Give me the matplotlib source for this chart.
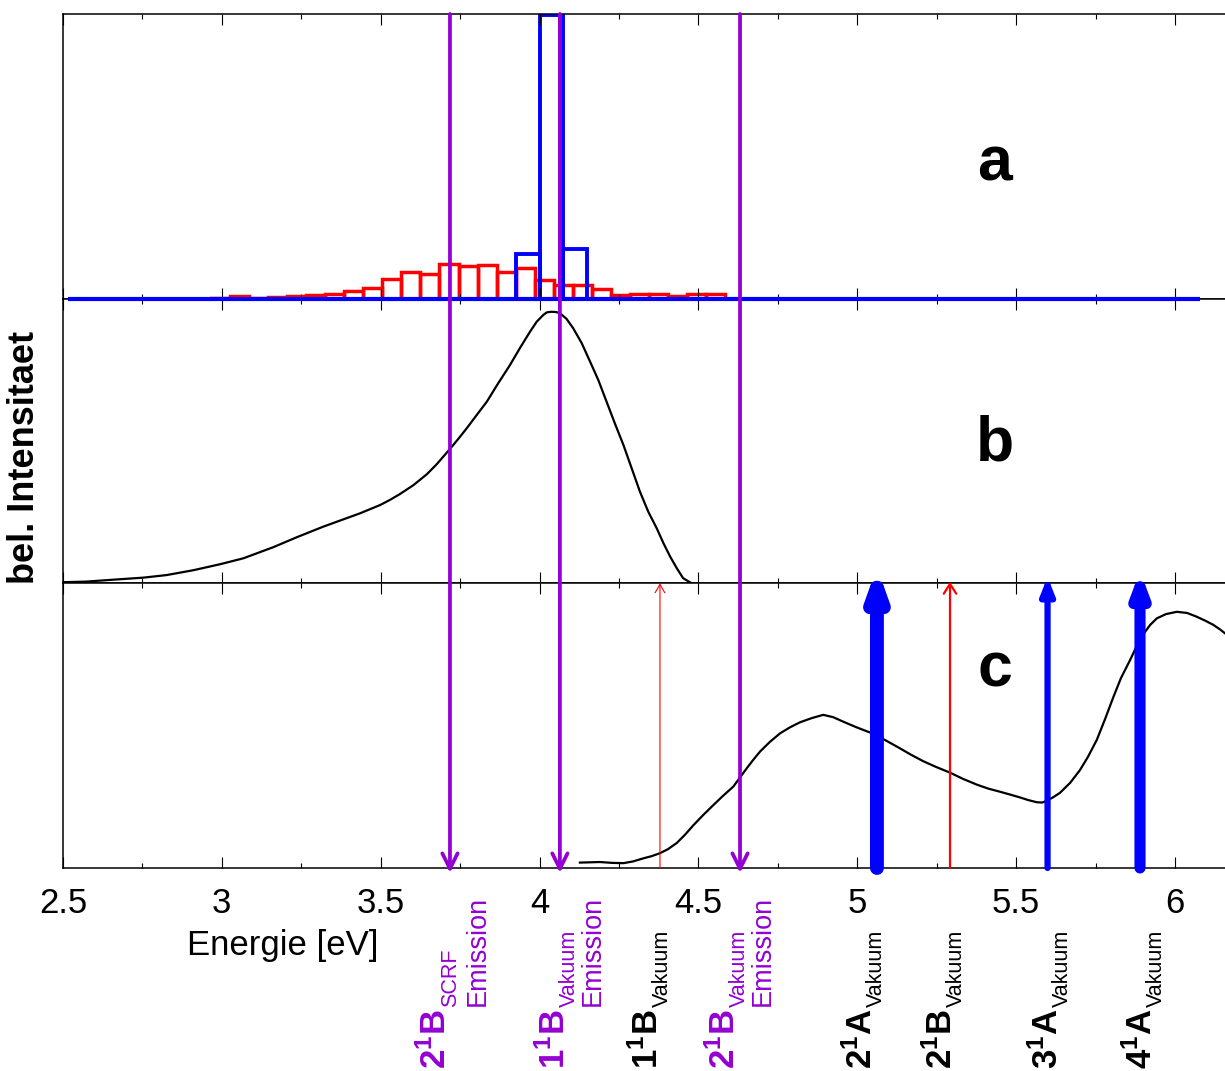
import matplotlib.pyplot as plt
import numpy as np
from matplotlib.ticker import MultipleLocator, FormatStrFormatter
from matplotlib.transforms import blended_transform_factory

plt.rcParams['font.family'] = ['Liberation Sans', 'DejaVu Sans']
plt.rcParams['mathtext.fontset'] = 'custom'
plt.rcParams['mathtext.rm'] = 'Liberation Sans'
plt.rcParams['mathtext.bf'] = 'Liberation Sans:bold'
plt.rcParams['mathtext.it'] = 'Liberation Sans:italic'

PURPLE = '#9400D3'

# --- panel a: histograms (normalised heights) ---
red_start, red_width = 2.965, 0.06
red_heights = [0.004, 0.008, 0.004, 0.007, 0.008, 0.014, 0.016, 0.026, 0.036,
               0.070, 0.093, 0.088, 0.122, 0.113, 0.117, 0.095, 0.106, 0.064,
               0.049, 0.049, 0.034, 0.012, 0.018, 0.018, 0.011, 0.018, 0.018]
blue_left = [3.925, 4.0, 4.075]
blue_width = 0.075
blue_heights = [0.156, 0.995, 0.174]
blue_span = [2.515, 6.08]

# --- panel b: emission spectrum ---
b_x = [2.501, 2.572, 2.648, 2.753, 2.826, 2.910, 2.994, 3.068, 3.162, 3.236,
       3.319, 3.435, 3.498, 3.529, 3.561, 3.603, 3.645, 3.676, 3.718, 3.744,
       3.771, 3.802, 3.834, 3.870, 3.907, 3.938, 3.970, 3.991, 4.012, 4.023,
       4.038, 4.052, 4.064, 4.085, 4.106, 4.133, 4.159, 4.185, 4.211, 4.237,
       4.264, 4.290, 4.316, 4.342, 4.369, 4.390, 4.411, 4.432, 4.452, 4.479]
b_y = [0.004, 0.006, 0.012, 0.020, 0.029, 0.046, 0.067, 0.088, 0.127, 0.162,
       0.199, 0.246, 0.275, 0.293, 0.314, 0.345, 0.383, 0.418, 0.472, 0.507,
       0.545, 0.591, 0.638, 0.703, 0.767, 0.826, 0.884, 0.919, 0.943, 0.952,
       0.954, 0.953, 0.949, 0.929, 0.896, 0.843, 0.779, 0.714, 0.638, 0.562,
       0.486, 0.404, 0.322, 0.252, 0.193, 0.141, 0.094, 0.053, 0.018, 0.0]

# --- panel c: absorption spectrum ---
c_x = [4.127, 4.159, 4.190, 4.228, 4.264, 4.294, 4.327, 4.354, 4.379, 4.404,
       4.432, 4.458, 4.484, 4.515, 4.547, 4.577, 4.610, 4.631, 4.652, 4.672,
       4.694, 4.725, 4.757, 4.788, 4.820, 4.858, 4.893, 4.924, 4.956, 4.996,
       5.040, 5.072, 5.103, 5.135, 5.169, 5.208, 5.248, 5.292, 5.333, 5.376,
       5.412, 5.449, 5.481, 5.512, 5.537, 5.565, 5.582, 5.596, 5.616, 5.638,
       5.670, 5.701, 5.726, 5.754, 5.780, 5.806, 5.830, 5.859, 5.881, 5.901,
       5.922, 5.943, 5.972, 6.006, 6.038, 6.068, 6.095, 6.121, 6.142, 6.158]
c_y = [0.019, 0.020, 0.021, 0.018, 0.017, 0.023, 0.034, 0.042, 0.052, 0.066,
       0.088, 0.117, 0.150, 0.186, 0.221, 0.253, 0.286, 0.318, 0.350, 0.379,
       0.409, 0.443, 0.473, 0.494, 0.512, 0.527, 0.538, 0.530, 0.514, 0.495,
       0.476, 0.459, 0.440, 0.420, 0.398, 0.375, 0.355, 0.335, 0.313, 0.293,
       0.279, 0.268, 0.258, 0.248, 0.239, 0.231, 0.230, 0.236, 0.248, 0.264,
       0.299, 0.344, 0.390, 0.450, 0.523, 0.600, 0.667, 0.731, 0.783, 0.822,
       0.854, 0.877, 0.892, 0.900, 0.896, 0.883, 0.869, 0.854, 0.838, 0.824]

# --- transitions ---
emis_x = [3.718, 4.064, 4.631]
abs_x = [4.379, 5.062, 5.292, 5.599, 5.890]
abs_color = ['red', 'blue', 'red', 'blue', 'blue']
abs_lw = [0.8, 10, 1.6, 4.5, 8]
abs_tip = [1.0, 1.057, 1.005, 1.022, 1.043]
abs_style = ['->,head_length=6,head_width=3.5', '-|>,head_length=14,head_width=5',
             '->,head_length=7,head_width=4.5', '-|>,head_length=10,head_width=4',
             '-|>,head_length=12,head_width=4.5']

lab_main = ['2^{1}B', '1^{1}B', '1^{1}B', '2^{1}B', '2^{1}A', '2^{1}B', '3^{1}A', '4^{1}A']
lab_sub = ['SCRF', 'Vakuum', 'Vakuum', 'Vakuum', 'Vakuum', 'Vakuum', 'Vakuum', 'Vakuum']
lab_x = [3.706, 4.080, 4.373, 4.615, 5.046, 5.298, 5.632, 5.928]
lab_color = [PURPLE, PURPLE, 'black', PURPLE, 'black', 'black', 'black', 'black']
emis_label_x = [3.828, 4.190, 4.725]

W, H = 1225, 1071
X0, X1 = 2.5, 2.5 + (W - 63) / 317.7
left = 63 / W
top_px, bot_px = 14, 868
ph = (bot_px - top_px) / 3

fig = plt.figure(figsize=(W / 100, H / 100), dpi=100)
axes = []
for i in range(3):
    y0 = top_px + i * ph
    ax = fig.add_axes([left, 1 - (y0 + ph) / H, 1 - left, ph / H])
    ax.set_xlim(X0, X1)
    ax.set_ylim(0, 1)
    ax.set_yticks([])
    ax.spines['right'].set_visible(False)
    for s in ['left', 'top', 'bottom']:
        ax.spines[s].set_linewidth(1.1)
    ax.xaxis.set_major_locator(MultipleLocator(0.5))
    ax.xaxis.set_minor_locator(MultipleLocator(0.25))
    ax.tick_params(which='both', direction='in', top=True, bottom=True,
                   labelbottom=False, width=0.8)
    ax.tick_params(which='major', length=8)
    ax.tick_params(which='minor', length=3.6)
    axes.append(ax)
ax_a, ax_b, ax_c = axes

# panel a
red_left = red_start + red_width * np.arange(len(red_heights))
ax_a.bar(red_left, red_heights, width=red_width, align='edge', fill=False,
         edgecolor='red', lw=2.5)
ax_a.bar(blue_left, blue_heights, width=blue_width, align='edge', fill=False,
         edgecolor='blue', lw=2.8)

# panel b, c
ax_b.plot(b_x, b_y, color='black', lw=1.6)
ax_c.plot(c_x, c_y, color='black', lw=1.6)

for ax, letter, yb in zip(axes, ['a', 'b', 'c'], [0.4145, 0.433, 0.639]):
    ax.text(0.802, yb, letter, transform=ax.transAxes, ha='center', va='baseline',
            fontsize=45, fontweight='bold')

ax_c.tick_params(labelbottom=True, labelsize=25, pad=14)
ax_c.xaxis.set_major_formatter(FormatStrFormatter('%g'))
ax_c.set_xlabel('Energie [eV]', fontsize=25)
ax_c.xaxis.set_label_coords(0.1893, -0.214)

fig.text(25 / W, 1 - 457 / H, 'bel. Intensitaet', rotation=90, ha='center',
         va='center', fontsize=26, fontweight='bold')

# overlay for arrows spanning all panels
ax_o = fig.add_axes([left, 1 - bot_px / H, 1 - left, (bot_px - top_px) / H])
ax_o.set_xlim(X0, X1)
ax_o.set_ylim(0, 3)
ax_o.axis('off')

# blue baseline of the histogram, drawn over the panel border
ax_o.hlines(2, blue_span[0], blue_span[1], colors='blue', lw=3, clip_on=False)

for x in emis_x:
    ax_o.annotate('', xy=(x, -0.017), xytext=(x, 3),
                  arrowprops=dict(arrowstyle='->,head_length=11,head_width=5.5',
                                  color=PURPLE, lw=2.7, shrinkA=0, shrinkB=0,
                                  mutation_scale=1),
                  annotation_clip=False)

for x, c, lw, tip, st in zip(abs_x, abs_color, abs_lw, abs_tip, abs_style):
    ax_o.annotate('', xy=(x, tip), xytext=(x, 0),
                  arrowprops=dict(arrowstyle=st, color=c, lw=lw, shrinkA=0,
                                  shrinkB=0, mutation_scale=1, capstyle='round',
                                  joinstyle='round'),
                  annotation_clip=False)

# labels below the axis
tr = blended_transform_factory(ax_o.transData, fig.transFigure)
mains = []
for x, m, col in zip(lab_x, lab_main, lab_color):
    t = fig.text(x, (H - 1069) / H, r'$\mathbf{%s}$' % m, transform=tr, rotation=90,
                 rotation_mode='anchor', ha='left', va='baseline', fontsize=25,
                 color=col)
    mains.append(t)
for x in emis_label_x:
    fig.text(x, (H - 1006) / H, 'Emission', transform=tr, rotation=90,
             rotation_mode='anchor', ha='left', va='baseline', fontsize=19.5,
             color=PURPLE)

fig.canvas.draw()
renderer = fig.canvas.get_renderer()
inv = fig.transFigure.inverted()
for t, x, s, col in zip(mains, lab_x, lab_sub, lab_color):
    bb = t.get_window_extent(renderer)
    xd = ax_o.transData.transform((x, 0))[0] + 10
    fx, fy = inv.transform((xd, bb.y1 + 2))
    fig.text(fx, fy, s, rotation=90, rotation_mode='anchor', ha='left',
             va='baseline', fontsize=15.5, color=col)

fig.savefig('out.png', dpi=100)
